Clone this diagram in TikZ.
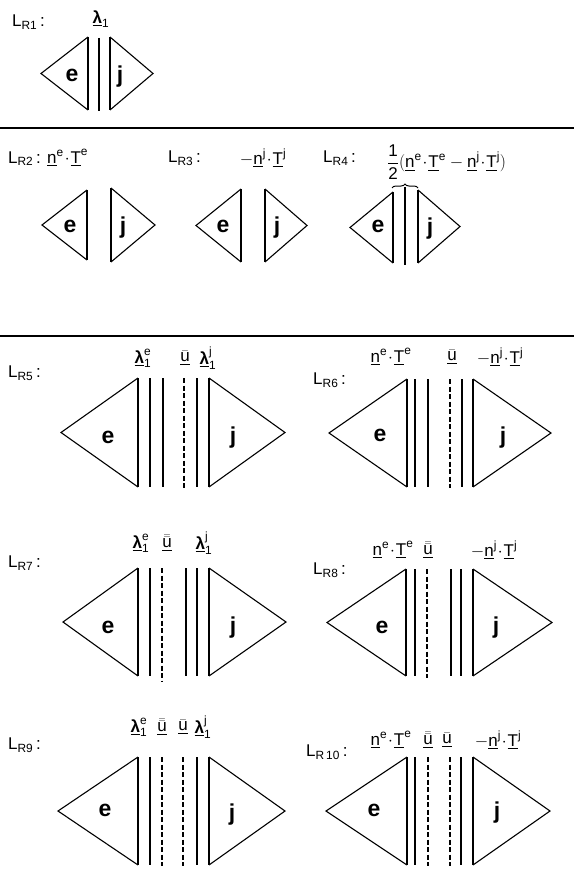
\documentclass[tikz,border=0pt]{standalone}
\usepackage{amsmath}
\usepackage{fontspec}
\setmainfont{Liberation Sans}
\usetikzlibrary{decorations.pathreplacing}

\newcommand{\vc}[1]{\underline{\text{#1}}}
\newcommand{\lam}{\underline{\text{\bfseries λ}}}
\newcommand{\ub}{\underline{\bar{\text{u}}}}
\newcommand{\ubb}{\underline{\bar{\bar{\text{u}}}}}
\newcommand{\dt}{\mkern1mu{\cdot}\mkern1mu}
\newcommand{\LR}[1]{L\textsubscript{R#1}\,:}
% facet: apex x, edge x, top y, bottom y
\newcommand{\facet}[4]{%
  \draw[tri] (#2,#3) -- (#1,{(#3+#4)/2}) -- (#2,#4);
  \draw[face] (#2,#3) -- (#2,#4);}

\begin{document}
\begin{tikzpicture}[x=1pt,y=-1pt,
  tri/.style={line width=1.1pt,line join=miter},
  face/.style={line width=2.2pt},
  lagr/.style={line width=2.4pt},
  trac/.style={line width=1.1pt},
  disp/.style={line width=2.4pt,dash pattern=on 5pt off 2.5pt},
  rule/.style={line width=2.5pt},
  lbl/.style={font=\fontsize{17}{20}\selectfont,inner sep=0pt},
  elem/.style={font=\fontsize{23}{26}\selectfont\bfseries,inner sep=0pt}]
  \useasboundingbox (0,0) rectangle (574,872);

  % L_R1
  \node[lbl,anchor=west] (l1) at (12,22) {\LR{1}};
  \node[lbl] (lam1) at (101,19) {$\lam_{\text{1}}$};
  \facet{41}{88}{37}{110}
  \draw[lagr] (99,38) -- (99,111);
  \facet{153}{110}{37}{110}
  \node[elem] (e1) at (72,75) {e};
  \node[elem] (j1) at (120,77) {j};

  \draw[rule] (0,128) -- (574,128);

  % L_R2 .. L_R4
  \node[lbl,anchor=west] (l2) at (8,158) {\LR{2} $\vc{n}^{\text{e}}\dt\vc{T}^{\text{e}}$};
  \facet{42}{87}{190}{260}
  \facet{155}{111}{188}{262}
  \node[elem] (e2) at (70,226) {e};
  \node[elem] (j2) at (123,228) {j};

  \node[lbl,anchor=west] (l3) at (168,158) {\LR{3}};
  \node[lbl] (t3) at (263,158) {$-\vc{n}^{\text{j}}\dt\vc{T}^{\text{j}}$};
  \facet{196}{241}{189}{262}
  \facet{307}{265}{189}{262}
  \node[elem] (e3) at (223,226) {e};
  \node[elem] (j3) at (277,228) {j};

  \node[lbl,anchor=west] (l4) at (323,158) {\LR{4}};
  \node[lbl,anchor=west] (t4) at (387,162)
    {$\displaystyle\frac{\text{1}}{\text{2}}(\vc{n}^{\text{e}}\dt\vc{T}^{\text{e}}-\vc{n}^{\text{j}}\dt\vc{T}^{\text{j}})$};
  \facet{350}{393}{192}{263}
  \draw[lagr] (405,187) -- (405,265);
  \facet{460}{418}{190}{263}
  \draw[line width=1pt,decorate,decoration={brace,amplitude=4pt}] (392,188) -- (418,188);
  \node[elem] (e4) at (378,226) {e};
  \node[elem] (j4) at (430,229) {j};

  \draw[rule] (0,336) -- (574,336);

  % L_R5
  \node[lbl,anchor=west] (l5) at (8,373) {\LR{5}};
  \node[lbl] (lam5e) at (143,358) {$\lam^{\text{e}}_{\text{1}}$};
  \node[lbl] (u5) at (185,358) {$\ub$};
  \node[lbl] (lam5j) at (208,358) {$\lam^{\text{j}}_{\text{1}}$};
  \facet{61}{138}{378}{487}
  \draw[lagr] (150,378) -- (150,487);
  \draw[trac] (163,378) -- (163,487);
  \draw[disp] (184,378) -- (184,488);
  \draw[lagr] (197,378) -- (197,487);
  \facet{285}{209}{378}{487}
  \node[elem] (e5) at (108,437) {e};
  \node[elem] (j5) at (233,438) {j};

  % L_R6
  \node[lbl,anchor=west] (l6) at (313,380) {\LR{6}};
  \node[lbl] (t6e) at (391,357) {$\vc{n}^{\text{e}}\dt\vc{T}^{\text{e}}$};
  \node[lbl] (u6) at (452,357) {$\ub$};
  \node[lbl] (t6j) at (500,357) {$-\vc{n}^{\text{j}}\dt\vc{T}^{\text{j}}$};
  \facet{329}{407}{379}{487}
  \draw[trac] (415,379) -- (415,487);
  \draw[trac] (428,379) -- (428,487);
  \draw[disp] (450,379) -- (450,488);
  \draw[trac] (462,379) -- (462,487);
  \facet{551}{473}{379}{487}
  \node[elem] (e6) at (380,435) {e};
  \node[elem] (j6) at (503,438) {j};

  % L_R7
  \node[lbl,anchor=west] (l7) at (8,563) {\LR{7}};
  \node[lbl] (lam7e) at (141,543) {$\lam^{\text{e}}_{\text{1}}$};
  \node[lbl] (u7) at (167,543) {$\ubb$};
  \node[lbl] (lam7j) at (204,543) {$\lam^{\text{j}}_{\text{1}}$};
  \facet{63}{138}{568}{676}
  \draw[lagr] (150,568) -- (150,676);
  \draw[disp] (162,568) -- (162,681);
  \draw[trac] (186,568) -- (186,676);
  \draw[lagr] (197,568) -- (197,676);
  \facet{286}{209}{568}{676}
  \node[elem] (e7) at (108,627) {e};
  \node[elem] (j7) at (233,628) {j};

  % L_R8
  \node[lbl,anchor=west] (l8) at (313,570) {\LR{8}};
  \node[lbl] (t8e) at (393,550) {$\vc{n}^{\text{e}}\dt\vc{T}^{\text{e}}$};
  \node[lbl] (u8) at (428,550) {$\ubb$};
  \node[lbl] (t8j) at (494,550) {$-\vc{n}^{\text{j}}\dt\vc{T}^{\text{j}}$};
  \facet{327}{406}{569}{676}
  \draw[trac] (415,569) -- (415,676);
  \draw[disp] (427,569) -- (427,678);
  \draw[trac] (451,569) -- (451,676);
  \draw[trac] (461,569) -- (461,676);
  \facet{552}{473}{569}{676}
  \node[elem] (e8) at (382,627) {e};
  \node[elem] (j8) at (496,628) {j};

  % L_R9
  \node[lbl,anchor=west] (l9) at (8,745) {\LR{9}};
  \node[lbl] (lam9e) at (139,727) {$\lam^{\text{e}}_{\text{1}}$};
  \node[lbl] (u9a) at (162,727) {$\ubb$};
  \node[lbl] (u9b) at (183,727) {$\ub$};
  \node[lbl] (lam9j) at (203,727) {$\lam^{\text{j}}_{\text{1}}$};
  \facet{58}{138}{757}{865}
  \draw[lagr] (150,757) -- (150,865);
  \draw[disp] (162,757) -- (162,866);
  \draw[disp] (183,757) -- (183,866);
  \draw[lagr] (197,757) -- (197,865);
  \facet{285}{209}{757}{865}
  \node[elem] (e9) at (105,810) {e};
  \node[elem] (j9) at (232,815) {j};

  % L_R10
  \node[lbl,anchor=west] (l10) at (306,752) {\LR{\,10}};
  \node[lbl] (t10e) at (391,740) {$\vc{n}^{\text{e}}\dt\vc{T}^{\text{e}}$};
  \node[lbl] (u10a) at (428,740) {$\ubb$};
  \node[lbl] (u10b) at (447,740) {$\ub$};
  \node[lbl] (t10j) at (498,740) {$-\vc{n}^{\text{j}}\dt\vc{T}^{\text{j}}$};
  \facet{326}{407}{757}{865}
  \draw[trac] (415,757) -- (415,865);
  \draw[disp] (428,757) -- (428,866);
  \draw[disp] (450,757) -- (450,866);
  \draw[trac] (461,757) -- (461,865);
  \facet{550}{473}{757}{865}
  \node[elem] (e10) at (374,810) {e};
  \node[elem] (j10) at (497,813) {j};
\end{tikzpicture}
\end{document}
